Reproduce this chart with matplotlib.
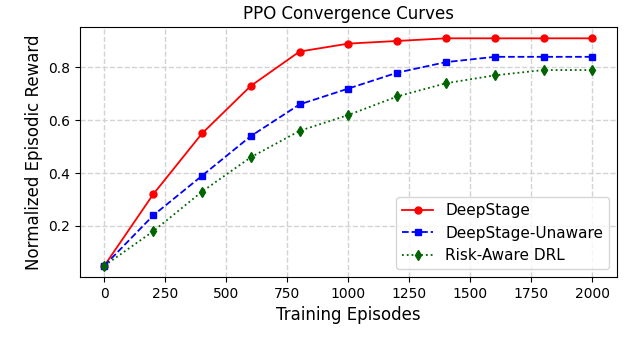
import matplotlib
matplotlib.use("Agg")
import matplotlib.pyplot as plt

# -----------------------------
# Dados
# -----------------------------
episodios = [0, 200, 400, 600, 800, 1000, 1200, 1400, 1600, 1800, 2000]
deepstage = [0.05, 0.32, 0.55, 0.73, 0.86, 0.89, 0.90, 0.91, 0.91, 0.91, 0.91]
deepstage_unaware = [0.05, 0.24, 0.39, 0.54, 0.66, 0.72, 0.78, 0.82, 0.84, 0.84, 0.84]
risk_aware = [0.05, 0.18, 0.33, 0.46, 0.56, 0.62, 0.69, 0.74, 0.77, 0.79, 0.79]

# -----------------------------
# Gráfico
# -----------------------------
fig, ax = plt.subplots(figsize=(6.3, 3.37), dpi=100)

ax.plot(episodios, deepstage, color="red", linestyle="-", marker="o",
        markersize=5, linewidth=1.3, label="DeepStage")
ax.plot(episodios, deepstage_unaware, color="blue", linestyle="--", marker="s",
        markersize=5, linewidth=1.3, label="DeepStage-Unaware")
ax.plot(episodios, risk_aware, color="darkgreen", linestyle=":", marker="d",
        markersize=5, linewidth=1.3, label="Risk-Aware DRL")

ax.set_title("PPO Convergence Curves", fontsize=12)
ax.set_xlabel("Training Episodes", fontsize=12)
ax.set_ylabel("Normalized Episodic Reward", fontsize=12)
ax.tick_params(labelsize=10)
ax.set_yticks([0.2, 0.4, 0.6, 0.8])
ax.grid(True, linestyle="--", color="lightgray", linewidth=1)
ax.legend(loc="lower right", fontsize=11)

fig.subplots_adjust(left=0.127, right=0.979, top=0.92, bottom=0.178)
fig.savefig("out.png", dpi=100)
